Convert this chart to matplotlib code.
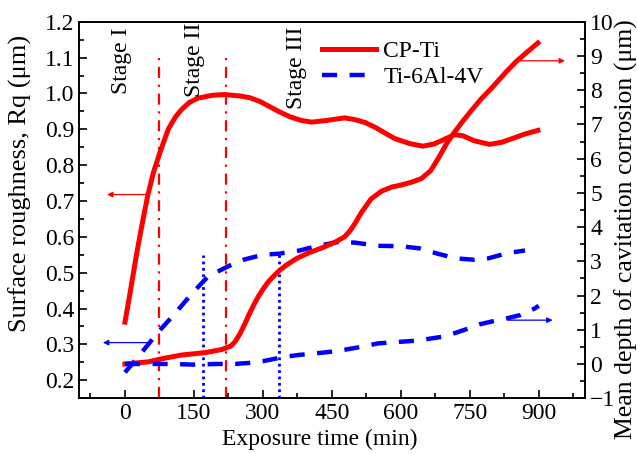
import matplotlib
matplotlib.use('Agg')
import matplotlib.pyplot as plt
from matplotlib.ticker import MultipleLocator

plt.rcParams['font.family'] = ['Liberation Serif', 'DejaVu Serif']

# CP-Ti surface roughness (left axis)
cp_rough_t = [0, 12, 25, 38, 50, 62, 76, 94, 110, 123, 140, 159, 190, 217, 250, 272, 295, 315,
              337, 359, 383, 406, 440, 478, 500, 522, 545, 565, 587, 620, 648, 672, 696,
              717, 735, 760, 793, 820, 844, 870, 898]
cp_rough_v = [0.362, 0.45, 0.55, 0.64, 0.718, 0.78, 0.835, 0.9, 0.935, 0.955, 0.975, 0.987,
              0.995, 0.997, 0.993, 0.988, 0.977, 0.963, 0.948, 0.935, 0.925, 0.92, 0.925, 0.932,
              0.927, 0.919, 0.905, 0.89, 0.874, 0.86, 0.853, 0.859, 0.873, 0.885, 0.882, 0.868,
              0.858, 0.864, 0.875, 0.887, 0.897]

# CP-Ti mean depth of cavitation corrosion (right axis)
cp_depth_t = [0, 50, 87, 123, 174, 210, 230, 240, 250, 260, 270, 280, 290, 300, 310, 320, 335,
              350, 373, 400, 430, 460, 478, 490, 500, 514, 535, 558, 580, 601, 625, 645, 665,
              681, 700, 717, 735, 750, 775, 800, 830, 851, 875, 898]
cp_depth_v = [0.0, 0.06, 0.17, 0.26, 0.33, 0.42, 0.52, 0.66, 0.88, 1.15, 1.45, 1.72, 1.97, 2.18,
              2.37, 2.52, 2.72, 2.88, 3.08, 3.25, 3.4, 3.58, 3.72, 3.9, 4.1, 4.42, 4.82, 5.05,
              5.17, 5.23, 5.32, 5.42, 5.65, 6.0, 6.45, 6.78, 7.1, 7.35, 7.75, 8.1, 8.55, 8.84,
              9.12, 9.38]

# Ti-6Al-4V surface roughness (left axis)
ti_rough_t = [0, 28, 72, 101, 148, 181, 228, 260, 300, 335, 380, 420, 460, 500,
              550, 600, 640, 680, 720, 760, 790, 830, 870]
ti_rough_v = [0.222, 0.264, 0.334, 0.375, 0.445, 0.49, 0.52, 0.537, 0.55, 0.553, 0.562, 0.575,
              0.585, 0.584, 0.575, 0.574, 0.568, 0.553, 0.54, 0.536, 0.54, 0.554, 0.562]

# Ti-6Al-4V mean depth of cavitation corrosion (right axis)
ti_depth_t = [0, 50, 100, 150, 200, 240, 270, 300, 344, 376, 430, 463, 514, 550, 601, 634,
              688, 717, 750, 772, 804, 830, 860, 891, 900]
ti_depth_v = [0.0, 0.0, 0.0, -0.02, 0.0, 0.0, 0.03, 0.08, 0.2, 0.26, 0.33, 0.38, 0.5, 0.6, 0.65,
              0.68, 0.79, 0.9, 1.05, 1.16, 1.26, 1.33, 1.43, 1.62, 1.7]

fig = plt.figure(figsize=(6.37, 4.54), dpi=100)
ax = fig.add_axes([0.124, 0.123, 0.794, 0.829])
ax2 = ax.twinx()

red = '#ff0000'
blue = '#0000ff'

l1, = ax.plot(cp_rough_t, cp_rough_v, color=red, lw=3.6, label='CP-Ti')
l2, = ax.plot(ti_rough_t, ti_rough_v, color=blue, lw=3.2, dashes=(3.4, 2.8), label='Ti-6Al-4V')
ax2.plot(cp_depth_t, cp_depth_v, color=red, lw=3.6)
ax2.plot(ti_depth_t, ti_depth_v, color=blue, lw=3.2, dashes=(3.4, 2.8))

# stage boundaries
ax.plot([75, 75], [0.15, 1.1], color=red, lw=1.6, linestyle=(0, (5, 3, 1, 3)))
ax.plot([219, 219], [0.15, 1.117], color=red, lw=1.6, linestyle=(0, (5, 3, 1, 3)))
ax.plot([170, 170], [0.15, 0.55], color=blue, lw=2.0, linestyle=(0, (1, 1.3)))
ax.plot([335, 335], [0.15, 0.55], color=blue, lw=2.0, linestyle=(0, (1, 1.3)))

ax.text(-7, 1.185, 'Stage I', rotation=90, ha='center', va='top', fontsize=17)
ax.text(152, 1.197, 'Stage II', rotation=90, ha='center', va='top', fontsize=17)
ax.text(374, 1.187, 'Stage III', rotation=90, ha='center', va='top', fontsize=17)

# arrows pointing to the axes
arrow = dict(arrowstyle='-|>', lw=0.9, mutation_scale=8, shrinkA=0, shrinkB=0)
ax.annotate('', xy=(-39, 0.718), xytext=(50, 0.718), arrowprops=dict(arrow, color=red))
ax.annotate('', xy=(-48, 0.305), xytext=(50, 0.305), arrowprops=dict(arrow, color=blue))
ax2.annotate('', xy=(957, 8.86), xytext=(859, 8.86), arrowprops=dict(arrow, color=red))
ax2.annotate('', xy=(930, 1.28), xytext=(833, 1.28), arrowprops=dict(arrow, color=blue))

ax.set_xlim(-100, 1000)
ax.set_ylim(0.15, 1.2)
ax2.set_ylim(-1, 10)

ax.set_xticks([0, 150, 300, 450, 600, 750, 900])
ax.xaxis.set_minor_locator(MultipleLocator(75))
ax.set_yticks([0.2, 0.3, 0.4, 0.5, 0.6, 0.7, 0.8, 0.9, 1.0, 1.1, 1.2])
ax.yaxis.set_minor_locator(MultipleLocator(0.05))
ax2.set_yticks(range(-1, 11))
ax2.yaxis.set_minor_locator(MultipleLocator(0.5))

ax.tick_params(which='both', direction='in', top=False, right=False, labelsize=17, width=1.2)
ax.tick_params(which='major', length=6)
ax.tick_params(which='minor', length=3.5)
ax2.tick_params(which='both', direction='in', labelsize=17, width=1.2, pad=4)
ax2.tick_params(which='major', length=6)
ax2.tick_params(which='minor', length=3.5)
for a in (ax, ax2):
    for s in a.spines.values():
        s.set_linewidth(1.2)

ax.set_xlabel('Exposure time (min)', fontsize=17)
ax.set_ylabel('Surface roughness, Rq (μm)', fontsize=19)
ax2.set_ylabel('Mean depth of cavitation corrosion (μm)', fontsize=18.5)
ax.xaxis.set_label_coords(0.476, -0.082)
ax.yaxis.set_label_coords(-0.093, 0.57)
ax2.yaxis.set_label_coords(1.058, 0.45)

ax.legend(handles=[l1, l2], loc='upper left', bbox_to_anchor=(0.48, 0.95), frameon=False,
          fontsize=17, handlelength=2.3, handletextpad=0.3, labelspacing=0.2,
          borderaxespad=0, borderpad=0)

fig.savefig('out.png', dpi=100)
